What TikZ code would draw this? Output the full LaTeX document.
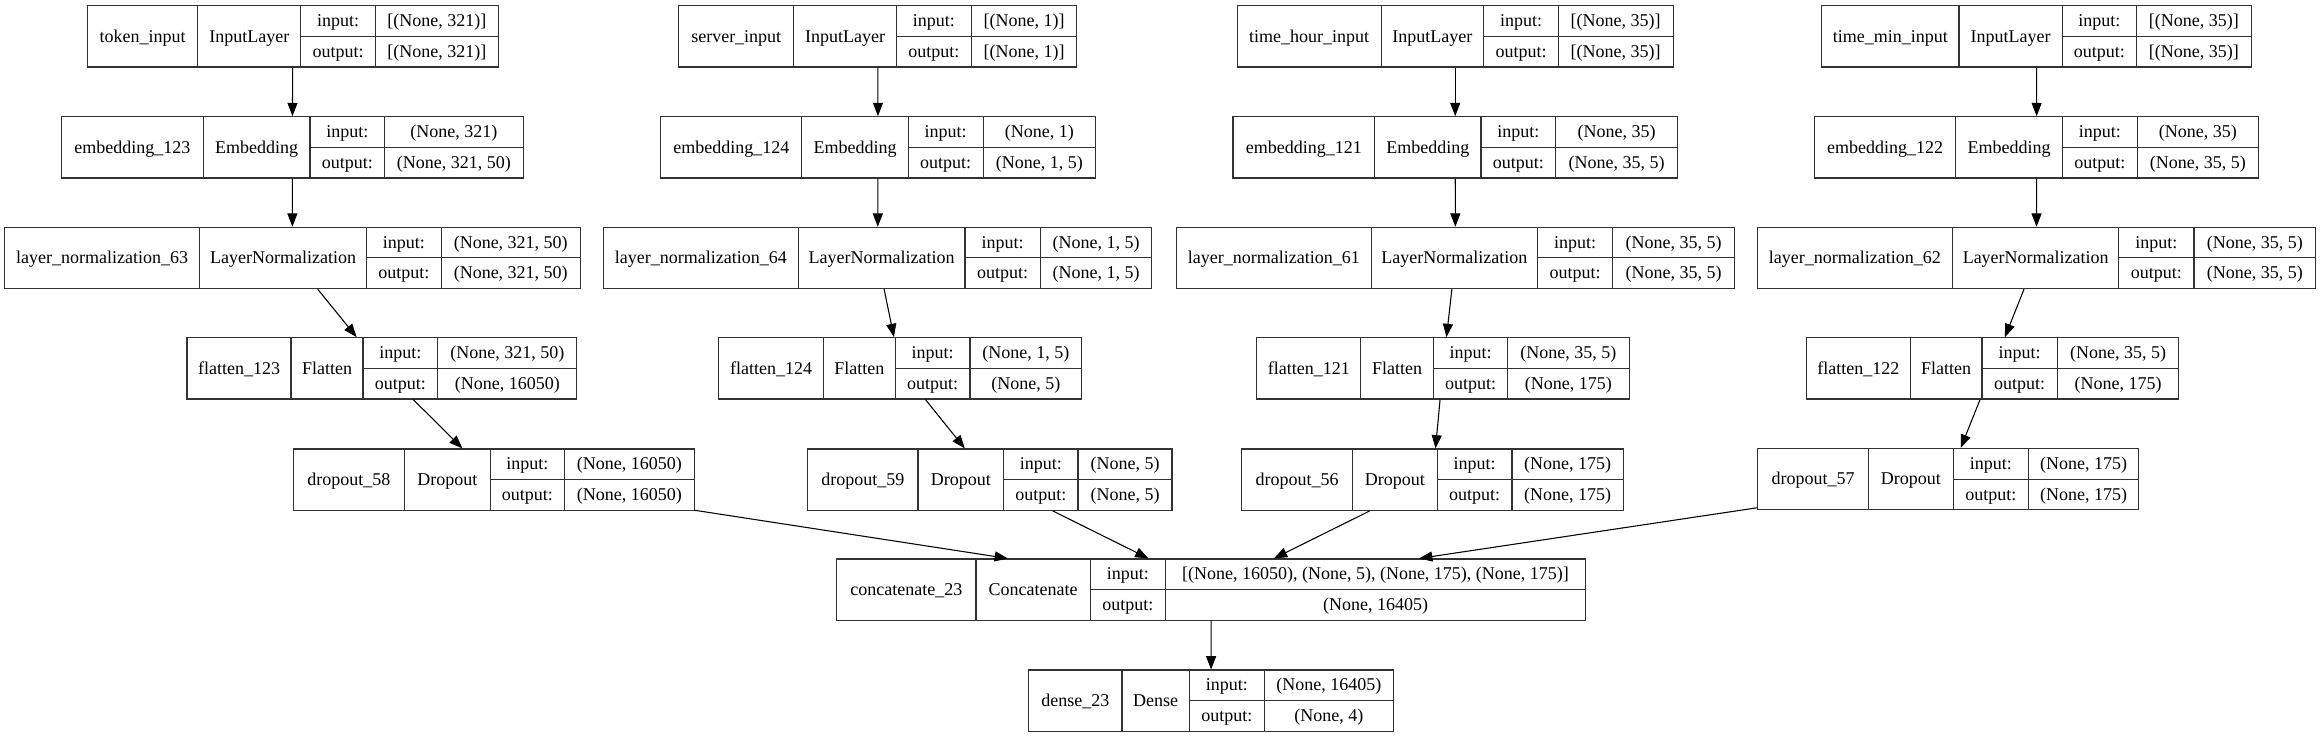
\documentclass[tikz,border=0pt]{standalone}
\usepackage{fontspec}
\setmainfont{Liberation Serif}
\usetikzlibrary{arrows.meta,fit}
\tikzstyle{box} = [ rectangle, draw = black!80, line width = 0.8pt, %
                    inner sep = 0pt ]
\tikzstyle{grid} = [ draw = black!80, line width = 0.8pt ]
\tikzstyle{txt} = [ inner sep = 0pt, text height = 8.5pt, text depth = 0pt, %
                    font = \fontsize{13.5}{16}\selectfont ]
\tikzstyle{arrow} = [line width = 0.8pt, -{Triangle[length = 10pt, width = 7.5pt]}]
% column edges: left/div1/div2/div3/right/top (px)
\def\splitcols#1/#2/#3/#4/#5/#6\relax{%
  \def\xL{#1}\def\xA{#2}\def\xB{#3}\def\xC{#4}\def\xR{#5}\def\yT{#6}}
\newcommand{\kerasbox}[6]{%
  \splitcols#2\relax
  \node[box, fit = {(\xL,\yT) (\xR,\yT+61.3)}] (#1) {};
  \draw[grid] (\xA,\yT) -- (\xA,\yT+61.3);
  \draw[grid] (\xB,\yT) -- (\xB,\yT+61.3);
  \draw[grid] (\xC,\yT) -- (\xC,\yT+61.3);
  \draw[grid] (\xB,\yT+30.65) -- (\xR,\yT+30.65);
  \node[txt] (#1n)  at ({(\xL+\xA)/2},{\yT+30.65}) {#3};
  \node[txt] (#1t)  at ({(\xA+\xB)/2},{\yT+30.65}) {#4};
  \node[txt] (#1il) at ({(\xB+\xC)/2},{\yT+15.3})  {input:};
  \node[txt] (#1iv) at ({(\xC+\xR)/2},{\yT+15.3})  {#5};
  \node[txt] (#1ol) at ({(\xB+\xC)/2},{\yT+46})    {output:};
  \node[txt] (#1ov) at ({(\xC+\xR)/2},{\yT+46})    {#6};
}

\begin{document}
\begin{tikzpicture}[x = 0.75pt, y = -0.75pt]
  \useasboundingbox (0,0) rectangle (2321,737);
  % Token branch
  \kerasbox{tokin}{87.3/197.9/300.8/375.4/498.2/5.7}%
    {token\_input}{InputLayer}{[(None, 321)]}{[(None, 321)]}
  \kerasbox{emb123}{61.6/203.2/310.0/384.6/523.1/116.7}%
    {embedding\_123}{Embedding}{(None, 321)}{(None, 321, 50)}
  \kerasbox{ln63}{4.6/199.8/366.6/441.3/580.2/227.3}%
    {layer\_normalization\_63}{LayerNormalization}{(None, 321, 50)}{(None, 321, 50)}
  \kerasbox{fl123}{187.0/291.0/363.0/437.9/576.8/337.7}%
    {flatten\_123}{Flatten}{(None, 321, 50)}{(None, 16050)}
  \kerasbox{do58}{293.3/404.4/490.2/564.7/694.2/449}%
    {dropout\_58}{Dropout}{(None, 16050)}{(None, 16050)}
  % Server branch
  \kerasbox{srvin}{678.9/793.6/896.4/971.4/1076.8/5.7}%
    {server\_input}{InputLayer}{[(None, 1)]}{[(None, 1)]}
  \kerasbox{emb124}{660.7/801.8/908.2/983.2/1095.3/116.7}%
    {embedding\_124}{Embedding}{(None, 1)}{(None, 1, 5)}
  \kerasbox{ln64}{603.6/798.2/965.0/1040.4/1151.8/227.3}%
    {layer\_normalization\_64}{LayerNormalization}{(None, 1, 5)}{(None, 1, 5)}
  \kerasbox{fl124}{718.9/823.2/895.3/970.0/1081.8/337.7}%
    {flatten\_124}{Flatten}{(None, 1, 5)}{(None, 5)}
  \kerasbox{do59}{807.8/918.0/1003.6/1078.0/1172.0/449}%
    {dropout\_59}{Dropout}{(None, 5)}{(None, 5)}
  % Hour branch
  \kerasbox{hourin}{1237.3/1381.1/1483.7/1558.3/1673.1/5.7}%
    {time\_hour\_input}{InputLayer}{[(None, 35)]}{[(None, 35)]}
  \kerasbox{emb121}{1233.0/1374.6/1481.0/1555.7/1677.4/116.7}%
    {embedding\_121}{Embedding}{(None, 35)}{(None, 35, 5)}
  \kerasbox{ln61}{1176.4/1371.2/1537.7/1612.7/1734.4/227.3}%
    {layer\_normalization\_61}{LayerNormalization}{(None, 35, 5)}{(None, 35, 5)}
  \kerasbox{fl121}{1256.8/1360.9/1433.2/1507.8/1629.1/337.7}%
    {flatten\_121}{Flatten}{(None, 35, 5)}{(None, 175)}
  \kerasbox{do56}{1241.8/1352.4/1437.4/1512.0/1623.4/449}%
    {dropout\_56}{Dropout}{(None, 175)}{(None, 175)}
  % Minute branch
  \kerasbox{minin}{1821.7/1959.0/2062.1/2136.4/2251.5/5.7}%
    {time\_min\_input}{InputLayer}{[(None, 35)]}{[(None, 35)]}
  \kerasbox{emb122}{1814.5/1955.8/2062.5/2137.1/2258.8/116.7}%
    {embedding\_122}{Embedding}{(None, 35)}{(None, 35, 5)}
  \kerasbox{ln62}{1757.3/1952.5/2118.9/2194.0/2315.6/227.3}%
    {layer\_normalization\_62}{LayerNormalization}{(None, 35, 5)}{(None, 35, 5)}
  \kerasbox{fl122}{1806.4/1910.2/1982.0/2057.4/2178.6/337.7}%
    {flatten\_122}{Flatten}{(None, 35, 5)}{(None, 175)}
  \kerasbox{do57}{1757.8/1868.3/1953.5/2028.3/2138.8/448.5}%
    {dropout\_57}{Dropout}{(None, 175)}{(None, 175)}
  % Merge and output
  \kerasbox{cat23}{836.7/976.0/1090.3/1165.3/1585.7/559}%
    {concatenate\_23}{Concatenate}%
    {[(None, 16050), (None, 5), (None, 175), (None, 175)]}{(None, 16405)}
  \kerasbox{dense23}{1028.6/1122.0/1189.3/1264.3/1393.4/670}%
    {dense\_23}{Dense}{(None, 16405)}{(None, 4)}
  % Arrows
  \draw [arrow] (tokin)  -- (emb123);
  \draw [arrow] (emb123) -- (ln63);
  \draw [arrow] (ln63)   -- (fl123);
  \draw [arrow] (fl123)  -- (do58);
  \draw [arrow] (srvin)  -- (emb124);
  \draw [arrow] (emb124) -- (ln64);
  \draw [arrow] (ln64)   -- (fl124);
  \draw [arrow] (fl124)  -- (do59);
  \draw [arrow] (hourin) -- (emb121);
  \draw [arrow] (emb121) -- (ln61);
  \draw [arrow] (ln61)   -- (fl121);
  \draw [arrow] (fl121)  -- (do56);
  \draw [arrow] (minin)  -- (emb122);
  \draw [arrow] (emb122) -- (ln62);
  \draw [arrow] (ln62)   -- (fl122);
  \draw [arrow] (fl122)  -- (do57);
  \draw [arrow] (do58)   -- (cat23);
  \draw [arrow] (do59)   -- (cat23);
  \draw [arrow] (do56)   -- (cat23);
  \draw [arrow] (do57)   -- (cat23);
  \draw [arrow] (cat23)  -- (dense23);
\end{tikzpicture}
\end{document}
